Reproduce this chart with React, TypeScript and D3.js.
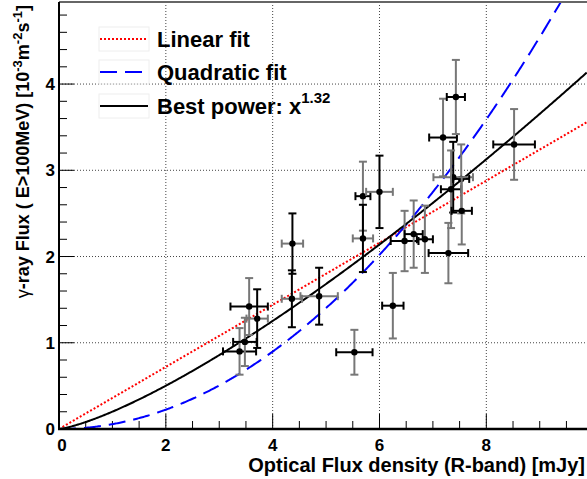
import React from "react";
import * as d3 from "d3";

// Optical flux (mJy) and gamma-ray flux (1e-3 m^-2 s^-1) with errors
const optFlux = [3.38, 3.48, 3.56, 3.71, 4.37, 4.36, 4.87, 5.53, 5.69, 5.69, 6.0, 6.25, 6.47, 6.64, 6.85, 7.29, 7.19, 7.43, 7.38, 7.34, 7.53, 7.54, 8.52];
const optErr = [0.31, 0.22, 0.35, 0.2, 0.2, 0.19, 0.35, 0.34, 0.14, 0.19, 0.25, 0.2, 0.26, 0.17, 0.15, 0.37, 0.26, 0.17, 0.37, 0.19, 0.15, 0.19, 0.39];
const gamFlux = [0.9, 1.01, 1.42, 1.28, 2.15, 1.51, 1.54, 0.89, 2.7, 2.21, 2.75, 1.43, 2.18, 2.26, 2.2, 2.04, 3.38, 3.85, 2.92, 2.78, 2.9, 2.53, 3.3];
const gamErr = [0.27, 0.28, 0.33, 0.34, 0.35, 0.33, 0.33, 0.26, 0.4, 0.39, 0.42, 0.38, 0.35, 0.39, 0.39, 0.35, 0.45, 0.43, 0.41, 0.45, 0.4, 0.39, 0.41];
const dataGroup = ["A", "A", "A", "B", "B", "B", "B", "A", "A", "B", "B", "A", "A", "A", "A", "A", "A", "A", "B", "A", "A", "A", "A"];

const xTicks = [0, 2, 4, 6, 8];
const yTicks = [0, 1, 2, 3, 4];

const linearSlope = 0.36;
const quadCoef = 0.0561;
const powerCoef = 0.201;
const powerExp = 1.32;

const legendLabels = ["Linear fit", "Quadratic fit", "Best power: x"];

const W = 587;
const H = 479;
const L = 59;
const R = 587;
const T = 3;
const B = 429;
const FONT = "'Liberation Sans', Arial, Helvetica, sans-serif";
const GRAY = "#777";

export default function App() {
  const x = d3.scaleLinear().domain([0, 9.885]).range([L, R]);
  const y = d3.scaleLinear().domain([0, 4.94]).range([B, T]);

  const xs = d3.range(0, 9.9, 0.02);
  const line = d3
    .line<[number, number]>()
    .x((d) => x(d[0]))
    .y((d) => y(d[1]));
  const linPath = line(xs.map((v) => [v, linearSlope * v]))!;
  const quadPath = line(xs.map((v) => [v, quadCoef * v * v]))!;
  const powPath = line(xs.map((v) => [v, powerCoef * Math.pow(v, powerExp)]))!;

  const xMinor = d3.range(0, 9.9, 0.5);
  const yMinor = d3.range(0, 4.95, 0.2);

  const legendRows = [39, 72, 106];

  return (
    <svg
      width={W}
      height={H}
      style={{ position: "absolute", left: 0, top: 0, background: "#fff" }}
      fontFamily={FONT}
    >
      <defs>
        <clipPath id="plot">
          <rect x={L} y={T} width={R - L} height={B - T} />
        </clipPath>
      </defs>
      <rect x={0} y={0} width={W} height={H} fill="#fff" />

      {/* grid */}
      {xTicks.slice(1).map((t) => (
        <line key={"gx" + t} x1={x(t)} x2={x(t)} y1={B} y2={T} stroke="#444" strokeDasharray="1 2" />
      ))}
      {yTicks.slice(1).map((t) => (
        <line key={"gy" + t} x1={L} x2={R} y1={y(t)} y2={y(t)} stroke="#444" strokeDasharray="1 2" />
      ))}

      {/* ticks */}
      {xMinor.map((t) => {
        const major = Math.abs(t % 2) < 1e-6;
        return <line key={"tx" + t} x1={x(t)} x2={x(t)} y1={B} y2={B - (major ? 15 : 8)} stroke="#000" strokeWidth={1} />;
      })}
      {yMinor.map((t) => {
        const major = Math.abs(t - Math.round(t)) < 1e-6;
        return <line key={"ty" + t} x1={L} x2={L + (major ? 15 : 8)} y1={y(t)} y2={y(t)} stroke="#000" strokeWidth={1} />;
      })}

      {/* fits */}
      <g clipPath="url(#plot)">
        <path d={linPath} fill="none" stroke="#ff0000" strokeWidth={2} strokeDasharray="2 2" />
        <path d={quadPath} fill="none" stroke="#0000ff" strokeWidth={2} strokeDasharray="17 8" />
        <path d={powPath} fill="none" stroke="#000" strokeWidth={2} />
      </g>

      {/* data */}
      {optFlux.map((ox, i) => {
        const cx = x(ox);
        const cy = y(gamFlux[i]);
        const vCol = dataGroup[i] === "A" ? GRAY : "#000";
        const hCol = dataGroup[i] === "A" ? "#000" : GRAY;
        const x0 = x(ox - optErr[i]);
        const x1 = x(ox + optErr[i]);
        const y0 = y(gamFlux[i] - gamErr[i]);
        const y1 = y(gamFlux[i] + gamErr[i]);
        return (
          <g key={"p" + i}>
            <line x1={x0} x2={x1} y1={cy} y2={cy} stroke={hCol} strokeWidth={2} />
            <line x1={x0} x2={x0} y1={cy - 4} y2={cy + 4} stroke={hCol} strokeWidth={2} />
            <line x1={x1} x2={x1} y1={cy - 4} y2={cy + 4} stroke={hCol} strokeWidth={2} />
            <line x1={cx} x2={cx} y1={y0} y2={y1} stroke={vCol} strokeWidth={2} />
            <line x1={cx - 4} x2={cx + 4} y1={y0} y2={y0} stroke={vCol} strokeWidth={2} />
            <line x1={cx - 4} x2={cx + 4} y1={y1} y2={y1} stroke={vCol} strokeWidth={2} />
            <circle cx={cx} cy={cy} r={3.2} fill="#000" />
          </g>
        );
      })}

      {/* frame */}
      <line x1={L} x2={R} y1={2} y2={2} stroke="#666" strokeWidth={2} />
      <line x1={L} x2={L} y1={T - 1} y2={B + 1} stroke="#000" strokeWidth={2} />
      <line x1={L - 1} x2={R} y1={B} y2={B} stroke="#000" strokeWidth={2.5} />

      {/* tick labels */}
      {xTicks.map((t) => (
        <text key={"lx" + t} x={x(t) + (t === 0 ? 3 : 0)} y={451} textAnchor="middle" fontSize={17} fontWeight="bold">
          {t}
        </text>
      ))}
      {yTicks.map((t) => (
        <text key={"ly" + t} x={55} y={y(t) + 6} textAnchor="end" fontSize={17} fontWeight="bold">
          {t}
        </text>
      ))}

      {/* axis titles */}
      <text x={585} y={472} textAnchor="end" fontSize={20} fontWeight="bold">
        Optical Flux density (R-band) [mJy]
      </text>
      <text transform="translate(29,5) rotate(-90)" textAnchor="end" fontSize={18} fontWeight="bold">
        <tspan fontWeight="normal">γ</tspan>-ray Flux ( E&gt;100MeV) [10
        <tspan fontSize={13} dy={-7}>-3</tspan>
        <tspan dy={7}>m</tspan>
        <tspan fontSize={13} dy={-7}>-2</tspan>
        <tspan dy={7}>s</tspan>
        <tspan fontSize={13} dy={-7}>-1</tspan>
        <tspan dy={7}>]</tspan>
      </text>

      {/* legend */}
      {legendRows.map((ry, i) => (
        <rect key={"lb" + i} x={99} y={ry - 12} width={50} height={24} fill="none" stroke="#eee" strokeWidth={1} />
      ))}
      <line x1={100} x2={148} y1={legendRows[0]} y2={legendRows[0]} stroke="#ff0000" strokeWidth={2} strokeDasharray="2 2" />
      <line x1={100} x2={148} y1={legendRows[1]} y2={legendRows[1]} stroke="#0000ff" strokeWidth={2} strokeDasharray="17 8" />
      <line x1={100} x2={148} y1={legendRows[2]} y2={legendRows[2]} stroke="#000" strokeWidth={2} />
      {legendLabels.map((lab, i) => (
        <text key={"lt" + i} x={157} y={legendRows[i] + 8} fontSize={22} fontWeight="bold">
          {lab}
          {i === 2 ? (
            <tspan fontSize={15} dy={-11}>
              {powerExp}
            </tspan>
          ) : null}
        </text>
      ))}
    </svg>
  );
}
